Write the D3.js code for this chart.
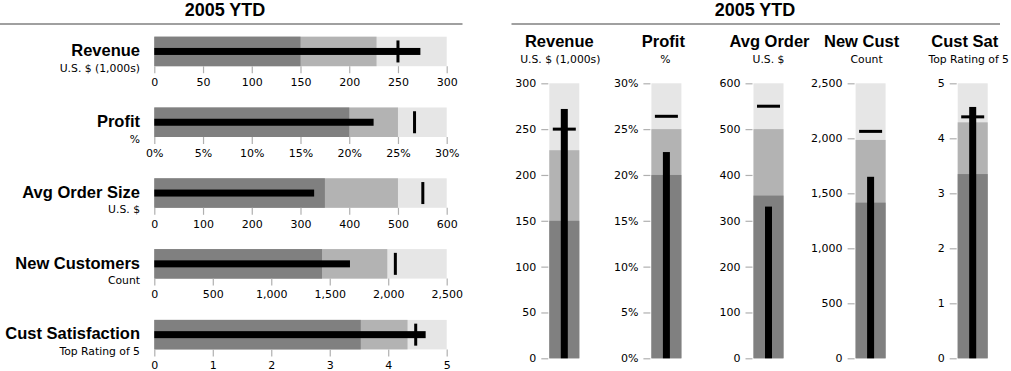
<!DOCTYPE html>
<html>
<head>
<meta charset="utf-8">
<script src="https://cdn.jsdelivr.net/npm/d3@7"></script>
<style>
  html, body { margin: 0; padding: 0; background: #fff; }
  svg { display: block; }
  .ttl { font-family: "Liberation Sans", Arial, sans-serif; font-weight: bold; fill: #000; }
  .sub { font-family: "DejaVu Sans", Verdana, sans-serif; font-size: 10.8px; fill: #000; }
  .tick text { font-family: "DejaVu Sans", Verdana, sans-serif; font-size: 11px; fill: #000; }
  .tick line { stroke: #b0b0b0; stroke-width: 1.2px; }
</style>
</head>
<body>
<svg id="chart" width="1011" height="371"></svg>
<script>
// ---------------- data ----------------
const panelTitle = "2005 YTD";
const hTitles = ["Revenue", "Profit", "Avg Order Size", "New Customers", "Cust Satisfaction"];
const vTitles = ["Revenue", "Profit", "Avg Order", "New Cust", "Cust Sat"];
const subtitles = ["U.S. $ (1,000s)", "%", "U.S. $", "Count", "Top Rating of 5"];

// horizontal panel values
const hPoor = [150, 20, 350, 1434, 3.53];
const hSatisfactory = [228, 25, 500, 1992, 4.33];
const hGood = [300, 30, 600, 2500, 5];
const hActual = [273, 22.5, 328, 1673, 4.64];
const hTarget = [250, 26.7, 551, 2061, 4.47];

// vertical panel values
const vPoor = [150, 20, 355, 1415, 3.35];
const vSatisfactory = [227, 25, 500, 1985, 4.29];
const vGood = [300, 30, 600, 2500, 5];
const vActual = [272, 22.5, 331, 1650, 4.57];
const vTarget = [250, 26.4, 550, 2063, 4.39];

const tickValues = [
  [0, 50, 100, 150, 200, 250, 300],
  [0, 5, 10, 15, 20, 25, 30],
  [0, 100, 200, 300, 400, 500, 600],
  [0, 500, 1000, 1500, 2000, 2500],
  [0, 1, 2, 3, 4, 5]
];
const tickLabels = [
  ["0", "50", "100", "150", "200", "250", "300"],
  ["0%", "5%", "10%", "15%", "20%", "25%", "30%"],
  ["0", "100", "200", "300", "400", "500", "600"],
  ["0", "500", "1,000", "1,500", "2,000", "2,500"],
  ["0", "1", "2", "3", "4", "5"]
];

// ---------------- layout ----------------
const colors = { poor: "#808080", sat: "#b3b3b3", good: "#e6e6e6", mark: "#000" };
const svg = d3.select("#chart");

// ===== Horizontal panel =====
const H = { x0: 154.3, x1: 446.7, top: 36.7, step: 70.8, h: 29.5, labelX: 140 };
svg.append("text").attr("class", "ttl").attr("x", 225).attr("y", 16)
  .attr("text-anchor", "middle").style("font-size", "18px").text(panelTitle);
svg.append("line").attr("x1", 0).attr("x2", 462.5).attr("y1", 24).attr("y2", 24)
  .attr("stroke", "#a0a0a0").attr("stroke-width", 2);

hTitles.forEach((t, i) => {
  const y0 = H.top + i * H.step;
  const x = d3.scaleLinear().domain([0, hGood[i]]).range([H.x0, H.x1]);
  const g = svg.append("g");
  const bands = [hGood[i], hSatisfactory[i], hPoor[i]];
  const bc = [colors.good, colors.sat, colors.poor];
  g.selectAll("rect.band").data(bands).join("rect")
    .attr("x", x(0)).attr("y", y0)
    .attr("width", d => x(d) - x(0)).attr("height", H.h)
    .attr("fill", (d, j) => bc[j]);
  // actual
  g.append("rect").attr("x", x(0)).attr("y", y0 + H.h / 2 - 3.5)
    .attr("width", x(hActual[i]) - x(0)).attr("height", 7).attr("fill", colors.mark);
  // target
  g.append("rect").attr("x", x(hTarget[i]) - 1.5).attr("y", y0 + H.h / 2 - 11)
    .attr("width", 3).attr("height", 22).attr("fill", colors.mark);
  // axis
  const axis = d3.axisBottom(x).tickValues(tickValues[i])
    .tickFormat((d, j) => tickLabels[i][j]).tickSize(7).tickPadding(5);
  const ag = g.append("g").attr("transform", `translate(0,${y0 + H.h})`).call(axis);
  ag.select(".domain").remove();
  // labels
  g.append("text").attr("class", "ttl").attr("x", H.labelX).attr("y", y0 + 19.5)
    .attr("text-anchor", "end").style("font-size", "16.5px").text(t);
  g.append("text").attr("class", "sub").attr("x", H.labelX).attr("y", y0 + 35)
    .attr("text-anchor", "end").text(subtitles[i]);
});

// ===== Vertical panel =====
const V = { x0: 549.3, step: 102.1, w: 30, top: 83.3, bottom: 358.3 };
const titleDx = [-5, -3, 1, -9, -8];
const subDx = [-4, -1, 0, -4, -4];
svg.append("text").attr("class", "ttl").attr("x", 755).attr("y", 16)
  .attr("text-anchor", "middle").style("font-size", "18px").text(panelTitle);
svg.append("line").attr("x1", 511.5).attr("x2", 1000).attr("y1", 24).attr("y2", 24)
  .attr("stroke", "#a0a0a0").attr("stroke-width", 2);

vTitles.forEach((t, i) => {
  const bx = V.x0 + i * V.step;
  const cx = bx + V.w / 2;
  const y = d3.scaleLinear().domain([0, vGood[i]]).range([V.bottom, V.top]);
  const g = svg.append("g");
  const bands = [vGood[i], vSatisfactory[i], vPoor[i]];
  const bc = [colors.good, colors.sat, colors.poor];
  g.selectAll("rect.band").data(bands).join("rect")
    .attr("x", bx).attr("y", d => y(d))
    .attr("width", V.w).attr("height", d => y(0) - y(d))
    .attr("fill", (d, j) => bc[j]);
  g.append("rect").attr("x", cx - 3.5).attr("y", y(vActual[i]))
    .attr("width", 7).attr("height", y(0) - y(vActual[i])).attr("fill", colors.mark);
  g.append("rect").attr("x", cx - 11.5).attr("y", y(vTarget[i]) - 1.5)
    .attr("width", 23).attr("height", 3).attr("fill", colors.mark);
  const axis = d3.axisLeft(y).tickValues(tickValues[i])
    .tickFormat((d, j) => tickLabels[i][j]).tickSize(7).tickPadding(5);
  const ag = g.append("g").attr("transform", `translate(${bx - 1},0)`).call(axis);
  ag.select(".domain").remove();
  g.append("text").attr("class", "ttl").attr("x", cx + titleDx[i]).attr("y", 46.5)
    .attr("text-anchor", "middle").style("font-size", "16.5px").text(t);
  g.append("text").attr("class", "sub").attr("x", cx + subDx[i]).attr("y", 63)
    .attr("text-anchor", "middle").text(subtitles[i]);
});
</script>
</body>
</html>
